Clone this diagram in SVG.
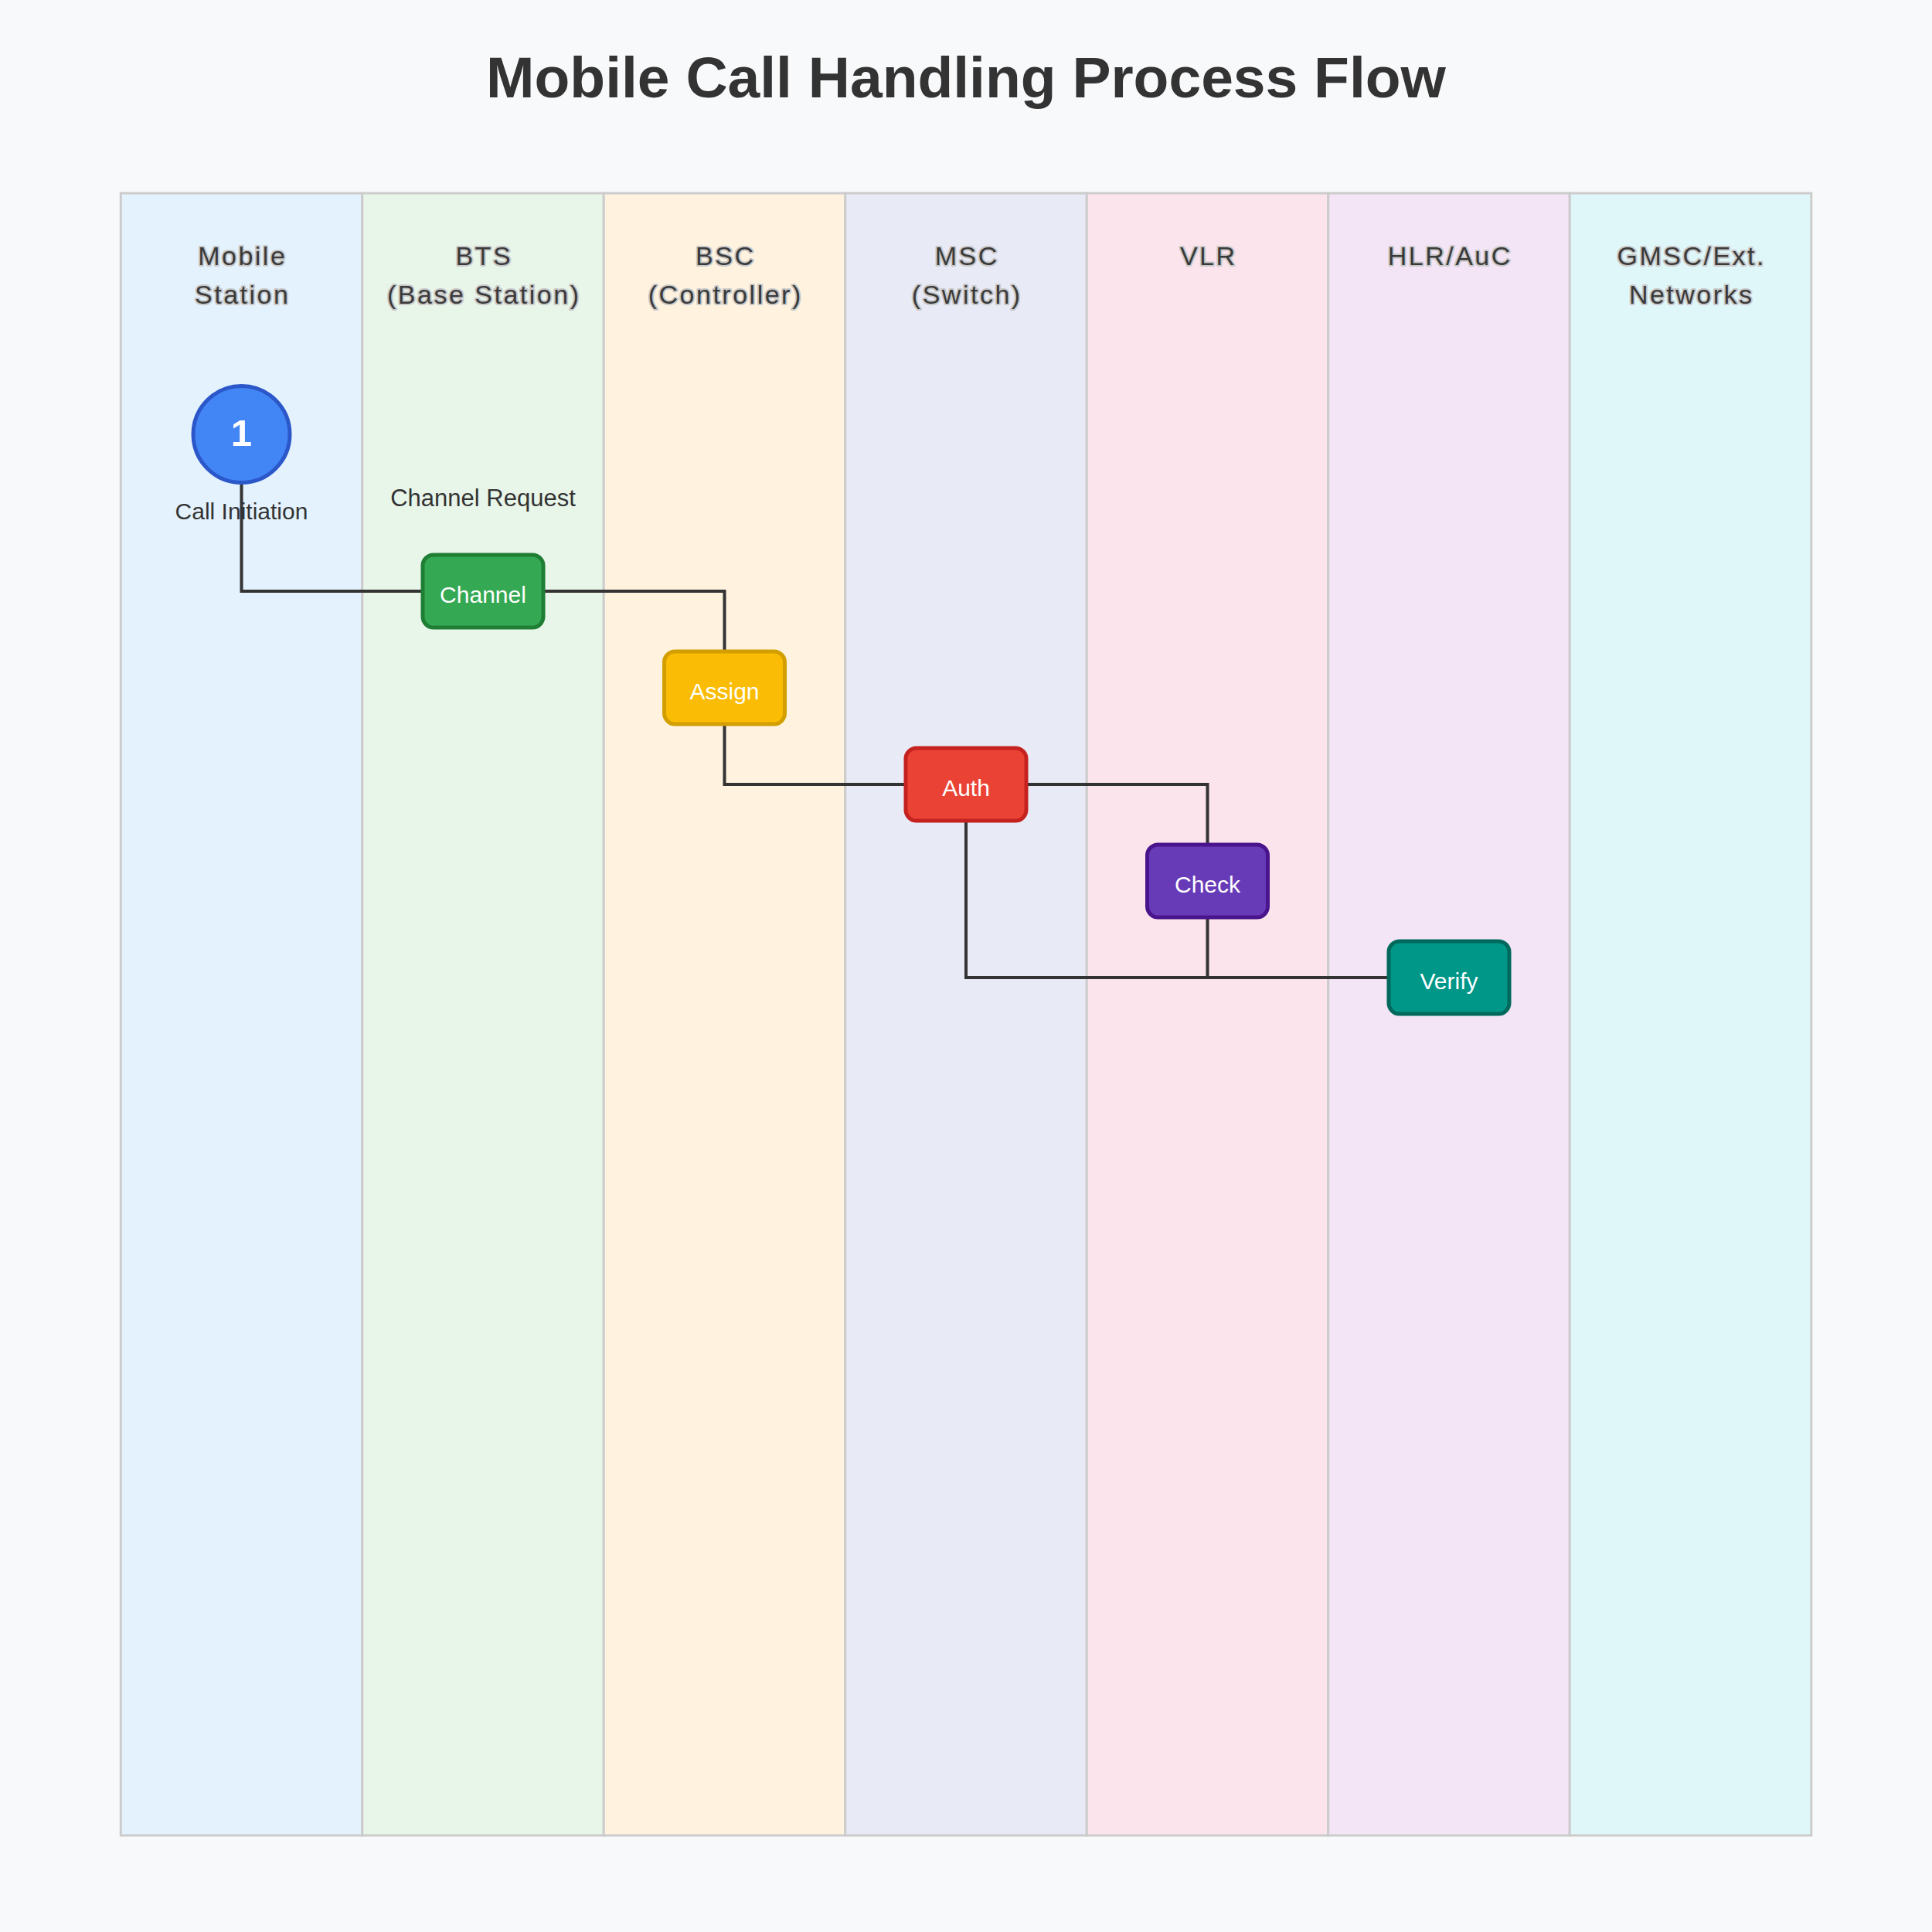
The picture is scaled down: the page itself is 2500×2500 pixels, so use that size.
<svg xmlns="http://www.w3.org/2000/svg" width="2500" height="2500" viewBox="0 0 2500 2500">
<style>
.lane{stroke:#cccccc;stroke-width:3}
.hdr{font-family:"Liberation Sans",Arial,sans-serif;font-size:34px;letter-spacing:2.5px;fill:#3a3a3a;stroke:#c8c8c8;stroke-width:4px;paint-order:stroke;stroke-linejoin:round;text-anchor:middle}
.title{font-family:"Liberation Sans",Arial,sans-serif;font-size:75px;font-weight:bold;fill:#333333;text-anchor:middle}
.lbl{font-family:"Liberation Sans",Arial,sans-serif;font-size:30px;fill:#333333;text-anchor:middle}
.ntx{font-family:"Liberation Sans",Arial,sans-serif;font-size:30px;fill:#ffffff;text-anchor:middle}
.conn{fill:none;stroke:#333333;stroke-width:4}
.node{stroke-width:5}
</style>
<rect x="0" y="0" width="2500" height="2500" fill="#f8f9fa"/>
<text class="title" x="1250" y="126">Mobile Call Handling Process Flow</text>
<g id="lanes">
<rect class="lane" x="156.25" y="250" width="312.5" height="2125" fill="#e3f2fd"/>
<rect class="lane" x="468.75" y="250" width="312.5" height="2125" fill="#e8f5e9"/>
<rect class="lane" x="781.25" y="250" width="312.5" height="2125" fill="#fff3e0"/>
<rect class="lane" x="1093.75" y="250" width="312.5" height="2125" fill="#e8eaf6"/>
<rect class="lane" x="1406.25" y="250" width="312.5" height="2125" fill="#fce4ec"/>
<rect class="lane" x="1718.75" y="250" width="312.5" height="2125" fill="#f3e5f5"/>
<rect class="lane" x="2031.25" y="250" width="312.5" height="2125" fill="#e0f7fa"/>
<text class="hdr" x="313.75" y="343">Mobile</text>
<text class="hdr" x="313.75" y="393">Station</text>
<text class="hdr" x="626.25" y="343">BTS</text>
<text class="hdr" x="626.25" y="393">(Base Station)</text>
<text class="hdr" x="938.75" y="343">BSC</text>
<text class="hdr" x="938.75" y="393">(Controller)</text>
<text class="hdr" x="1251.25" y="343">MSC</text>
<text class="hdr" x="1251.25" y="393">(Switch)</text>
<text class="hdr" x="1563.75" y="343">VLR</text>
<text class="hdr" x="1876.25" y="343">HLR/AuC</text>
<text class="hdr" x="2188.75" y="343">GMSC/Ext.</text>
<text class="hdr" x="2188.75" y="393">Networks</text>
</g>
<g id="labels">
<text class="lbl" x="312.5" y="672">Call Initiation</text>
<text class="lbl" x="625" y="655" style="font-size:31px">Channel Request</text>
</g>
<g id="connectors">
<path class="conn" d="M312.5,625 V765 H545"/>
<path class="conn" d="M705,765 H937.5 V843"/>
<path class="conn" d="M937.5,937 V1015 H1170"/>
<path class="conn" d="M1330,1015 H1562.5 V1093"/>
<path class="conn" d="M1250,1062 V1265 H1795"/>
<path class="conn" d="M1562.5,1187 V1265 H1795"/>
</g>
<g id="node-start">
<circle cx="312.5" cy="562" r="62.5" fill="#4285f4" stroke="#2b57c9" stroke-width="5"/>
<text x="312.5" y="577" style="font-family:'Liberation Sans',Arial,sans-serif;font-size:49px;font-weight:bold;fill:#ffffff;text-anchor:middle">1</text>
</g>
<g id="node-channel">
<rect class="node" x="547" y="718" width="156" height="94" rx="14" fill="#34a853" stroke="#1e7e34"/>
<text class="ntx" x="625" y="780">Channel</text>
</g>
<g id="node-assign">
<rect class="node" x="859.5" y="843" width="156" height="94" rx="14" fill="#fbbc05" stroke="#d39e00"/>
<text class="ntx" x="937.5" y="905">Assign</text>
</g>
<g id="node-auth">
<rect class="node" x="1172" y="968" width="156" height="94" rx="14" fill="#ea4335" stroke="#c5221f"/>
<text class="ntx" x="1250" y="1030">Auth</text>
</g>
<g id="node-check">
<rect class="node" x="1484.5" y="1093" width="156" height="94" rx="14" fill="#673ab7" stroke="#4a148c"/>
<text class="ntx" x="1562.5" y="1155">Check</text>
</g>
<g id="node-verify">
<rect class="node" x="1797" y="1218" width="156" height="94" rx="14" fill="#009688" stroke="#00695c"/>
<text class="ntx" x="1875" y="1280">Verify</text>
</g>
</svg>
